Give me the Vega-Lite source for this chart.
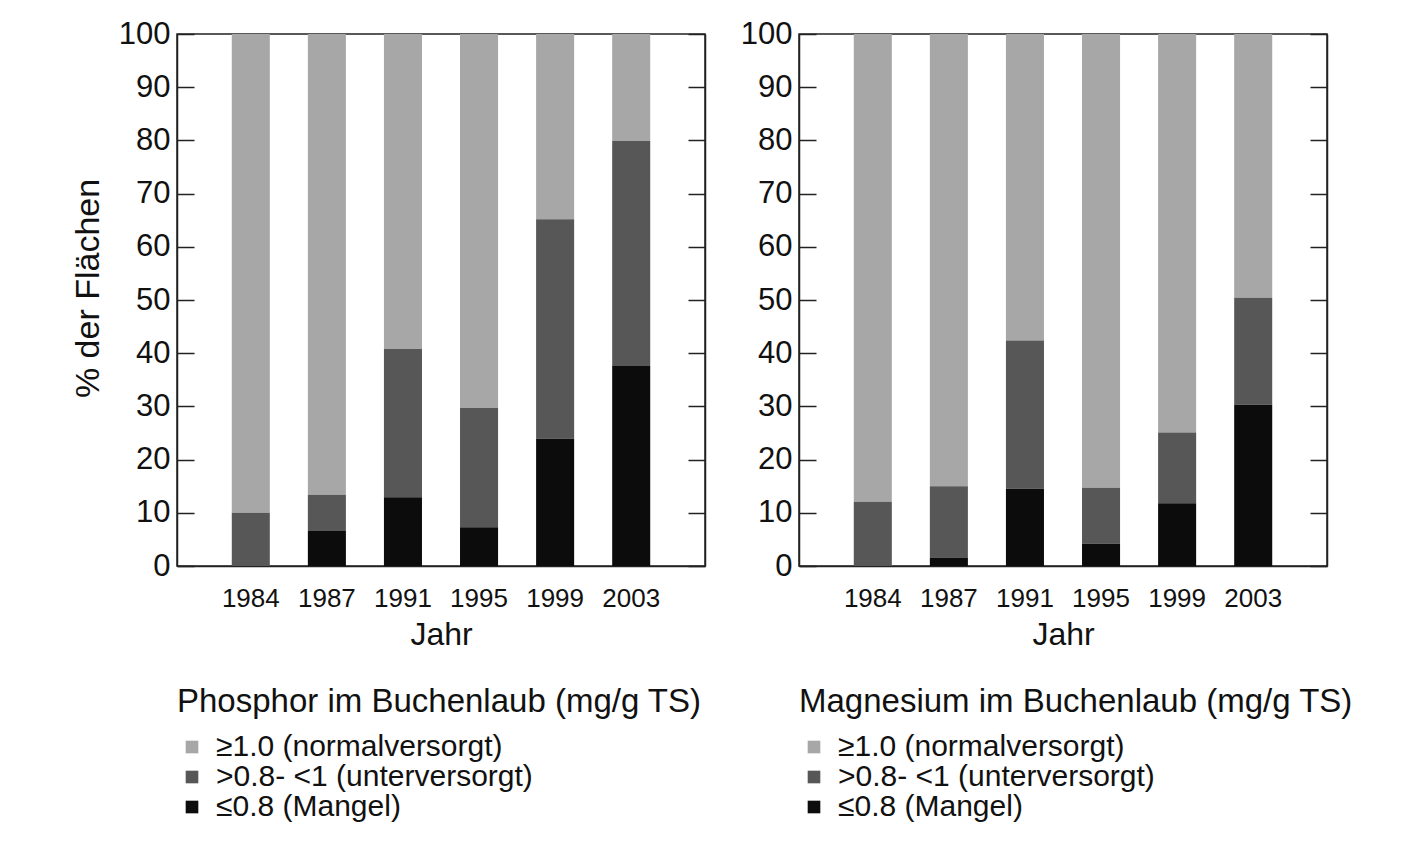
{
  "$schema": "https://vega.github.io/schema/vega-lite/v6.json",
  "padding": {"left": 70, "top": 17, "right": 10, "bottom": 10},
  "background": "white",
  "datasets": {
    "phos": [
      {"Jahr": "1984", "Klasse": "≥1.0 (normalversorgt)", "k": 3, "Anteil": 90.0},
      {"Jahr": "1984", "Klasse": ">0.8- <1 (unterversorgt)", "k": 2, "Anteil": 10.0},
      {"Jahr": "1984", "Klasse": "≤0.8 (Mangel)", "k": 1, "Anteil": 0.0},
      {"Jahr": "1987", "Klasse": "≥1.0 (normalversorgt)", "k": 3, "Anteil": 86.6},
      {"Jahr": "1987", "Klasse": ">0.8- <1 (unterversorgt)", "k": 2, "Anteil": 6.8},
      {"Jahr": "1987", "Klasse": "≤0.8 (Mangel)", "k": 1, "Anteil": 6.6},
      {"Jahr": "1991", "Klasse": "≥1.0 (normalversorgt)", "k": 3, "Anteil": 59.2},
      {"Jahr": "1991", "Klasse": ">0.8- <1 (unterversorgt)", "k": 2, "Anteil": 27.9},
      {"Jahr": "1991", "Klasse": "≤0.8 (Mangel)", "k": 1, "Anteil": 12.9},
      {"Jahr": "1995", "Klasse": "≥1.0 (normalversorgt)", "k": 3, "Anteil": 70.3},
      {"Jahr": "1995", "Klasse": ">0.8- <1 (unterversorgt)", "k": 2, "Anteil": 22.4},
      {"Jahr": "1995", "Klasse": "≤0.8 (Mangel)", "k": 1, "Anteil": 7.3},
      {"Jahr": "1999", "Klasse": "≥1.0 (normalversorgt)", "k": 3, "Anteil": 34.8},
      {"Jahr": "1999", "Klasse": ">0.8- <1 (unterversorgt)", "k": 2, "Anteil": 41.3},
      {"Jahr": "1999", "Klasse": "≤0.8 (Mangel)", "k": 1, "Anteil": 23.9},
      {"Jahr": "2003", "Klasse": "≥1.0 (normalversorgt)", "k": 3, "Anteil": 20.1},
      {"Jahr": "2003", "Klasse": ">0.8- <1 (unterversorgt)", "k": 2, "Anteil": 42.3},
      {"Jahr": "2003", "Klasse": "≤0.8 (Mangel)", "k": 1, "Anteil": 37.6}
    ],
    "mg": [
      {"Jahr": "1984", "Klasse": "≥1.0 (normalversorgt)", "k": 3, "Anteil": 87.9},
      {"Jahr": "1984", "Klasse": ">0.8- <1 (unterversorgt)", "k": 2, "Anteil": 12.1},
      {"Jahr": "1984", "Klasse": "≤0.8 (Mangel)", "k": 1, "Anteil": 0.0},
      {"Jahr": "1987", "Klasse": "≥1.0 (normalversorgt)", "k": 3, "Anteil": 85.0},
      {"Jahr": "1987", "Klasse": ">0.8- <1 (unterversorgt)", "k": 2, "Anteil": 13.4},
      {"Jahr": "1987", "Klasse": "≤0.8 (Mangel)", "k": 1, "Anteil": 1.6},
      {"Jahr": "1991", "Klasse": "≥1.0 (normalversorgt)", "k": 3, "Anteil": 57.6},
      {"Jahr": "1991", "Klasse": ">0.8- <1 (unterversorgt)", "k": 2, "Anteil": 27.9},
      {"Jahr": "1991", "Klasse": "≤0.8 (Mangel)", "k": 1, "Anteil": 14.5},
      {"Jahr": "1995", "Klasse": "≥1.0 (normalversorgt)", "k": 3, "Anteil": 85.3},
      {"Jahr": "1995", "Klasse": ">0.8- <1 (unterversorgt)", "k": 2, "Anteil": 10.5},
      {"Jahr": "1995", "Klasse": "≤0.8 (Mangel)", "k": 1, "Anteil": 4.2},
      {"Jahr": "1999", "Klasse": "≥1.0 (normalversorgt)", "k": 3, "Anteil": 74.9},
      {"Jahr": "1999", "Klasse": ">0.8- <1 (unterversorgt)", "k": 2, "Anteil": 13.3},
      {"Jahr": "1999", "Klasse": "≤0.8 (Mangel)", "k": 1, "Anteil": 11.8},
      {"Jahr": "2003", "Klasse": "≥1.0 (normalversorgt)", "k": 3, "Anteil": 49.6},
      {"Jahr": "2003", "Klasse": ">0.8- <1 (unterversorgt)", "k": 2, "Anteil": 20.1},
      {"Jahr": "2003", "Klasse": "≤0.8 (Mangel)", "k": 1, "Anteil": 30.3}
    ]
  },
  "config": {
    "font": "Liberation Sans",
    "view": {"stroke": "#222222", "strokeWidth": 1.5},
    "axis": {
      "grid": false,
      "domainColor": "#222222",
      "domainWidth": 1.5,
      "tickColor": "#222222",
      "tickWidth": 1.5,
      "labelColor": "#111111",
      "titleColor": "#111111",
      "titleFontWeight": "normal",
      "labelFont": "Liberation Sans",
      "titleFont": "Liberation Sans"
    },
    "legend": {
      "titleFontWeight": "normal",
      "titleColor": "#111111",
      "labelColor": "#111111",
      "titleFont": "Liberation Sans",
      "labelFont": "Liberation Sans",
      "labelLimit": 0,
      "titleLimit": 0
    }
  },
  "spacing": 32,
  "resolve": {"scale": {"color": "independent", "x": "independent", "y": "independent"}, "legend": {"color": "independent"}},
  "hconcat": [
    {
      "width": 528,
      "height": 532,
      "data": {"name": "phos"},
      "layer": [
        {
          "mark": {"type": "bar"},
          "encoding": {
            "x": {"field": "Jahr", "type": "ordinal", "scale": {"paddingInner": 0.5, "paddingOuter": 0.72},
              "axis": {"title": "Jahr", "labelAngle": 0, "ticks": false, "labelFontSize": 26, "labelPadding": 19, "titleFontSize": 32, "titlePadding": 8}},
            "y": {"field": "Anteil", "type": "quantitative", "stack": "zero", "scale": {"domain": [0, 100], "nice": false},
              "axis": {"title": "% der Flächen", "orient": "left", "values": [0,10,20,30,40,50,60,70,80,90,100], "tickSize": -17, "labelFontSize": 31, "labelPadding": 24, "titleFontSize": 34, "titlePadding": 13, "titleY": 254}},
            "color": {"field": "Klasse", "type": "nominal",
              "scale": {"domain": ["≥1.0 (normalversorgt)", ">0.8- <1 (unterversorgt)", "≤0.8 (Mangel)"], "range": ["#a7a7a7", "#575757", "#0c0c0c"]},
              "legend": {"title": "Phosphor im Buchenlaub (mg/g TS)", "orient": "bottom", "direction": "vertical", "offset": 36, "titleFontSize": 33, "labelFontSize": 30, "symbolType": "square", "symbolSize": 160, "symbolStrokeWidth": 0, "titlePadding": 13, "rowPadding": 0, "labelOffset": 9, "padding": 0}},
            "order": {"field": "k", "type": "quantitative"}
          }
        },
        {
          "mark": {"type": "point", "opacity": 0},
          "encoding": {
            "y": {"field": "Anteil", "type": "quantitative", "stack": null,
              "axis": {"title": null, "orient": "right", "labels": false, "values": [0,10,20,30,40,50,60,70,80,90,100], "tickSize": -17}}
          }
        }
      ],
      "resolve": {"axis": {"y": "independent"}}
    },
    {
      "width": 528,
      "height": 532,
      "data": {"name": "mg"},
      "layer": [
        {
          "mark": {"type": "bar"},
          "encoding": {
            "x": {"field": "Jahr", "type": "ordinal", "scale": {"paddingInner": 0.5, "paddingOuter": 0.72},
              "axis": {"title": "Jahr", "labelAngle": 0, "ticks": false, "labelFontSize": 26, "labelPadding": 19, "titleFontSize": 32, "titlePadding": 8}},
            "y": {"field": "Anteil", "type": "quantitative", "stack": "zero", "scale": {"domain": [0, 100], "nice": false},
              "axis": {"title": null, "orient": "left", "values": [0,10,20,30,40,50,60,70,80,90,100], "tickSize": -17, "labelFontSize": 31, "labelPadding": 24}},
            "color": {"field": "Klasse", "type": "nominal",
              "scale": {"domain": ["≥1.0 (normalversorgt)", ">0.8- <1 (unterversorgt)", "≤0.8 (Mangel)"], "range": ["#a7a7a7", "#575757", "#0c0c0c"]},
              "legend": {"title": "Magnesium im Buchenlaub (mg/g TS)", "orient": "bottom", "direction": "vertical", "offset": 36, "titleFontSize": 33, "labelFontSize": 30, "symbolType": "square", "symbolSize": 160, "symbolStrokeWidth": 0, "titlePadding": 13, "rowPadding": 0, "labelOffset": 9, "padding": 0}},
            "order": {"field": "k", "type": "quantitative"}
          }
        },
        {
          "mark": {"type": "point", "opacity": 0},
          "encoding": {
            "y": {"field": "Anteil", "type": "quantitative", "stack": null,
              "axis": {"title": null, "orient": "right", "labels": false, "values": [0,10,20,30,40,50,60,70,80,90,100], "tickSize": -17}}
          }
        }
      ],
      "resolve": {"axis": {"y": "independent"}}
    }
  ]
}
